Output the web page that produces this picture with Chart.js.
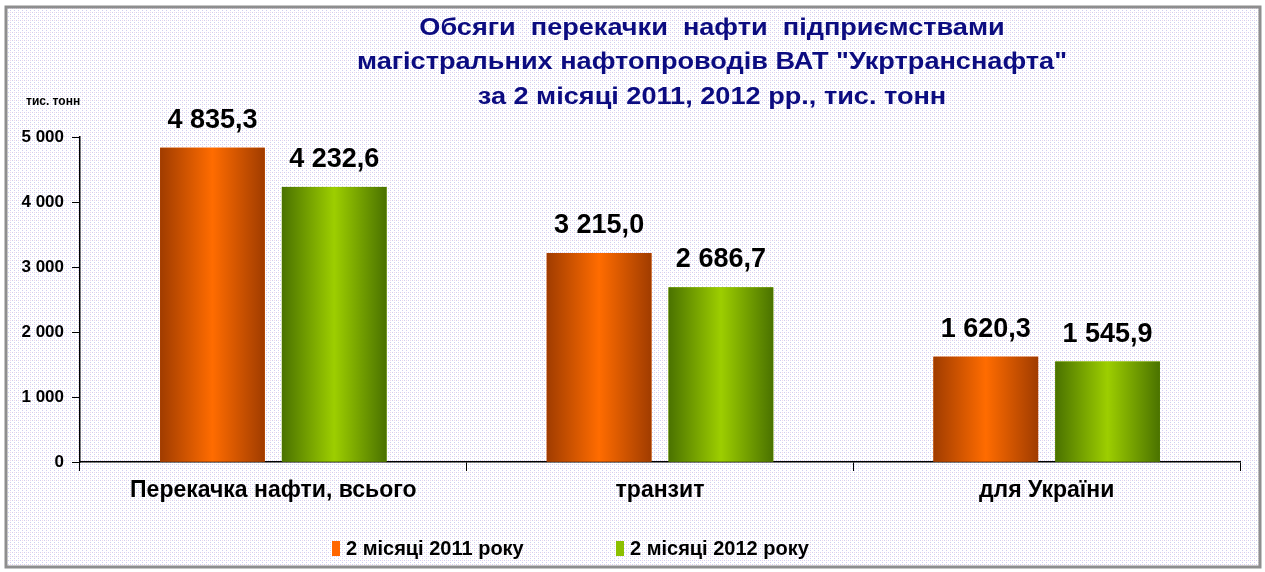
<!DOCTYPE html>
<html>
<head>
<meta charset="utf-8">
<script src="https://cdn.jsdelivr.net/npm/chart.js@4/dist/chart.umd.min.js"></script>
<style>
body{margin:0;background:#fff;}
#wrap{position:absolute;left:0;top:0;width:1265px;height:572px;}
</style>
</head>
<body>
<div id="wrap"><canvas id="chart" width="1265" height="572"></canvas></div>
<script>
// chart data
let categories = ["Перекачка нафти, всього", "транзит", "для України"];
let values2011 = [4835.3, 3215.0, 1620.3];
let values2012 = [4232.6, 2686.7, 1545.9];
let seriesNames = ["2 місяці 2011 року", "2 місяці 2012 року"];
let titleLines = [
    "Обсяги  перекачки  нафти  підприємствами",
    "магістральних нафтопроводів ВАТ \"Укртранснафта\"",
    "за 2 місяці 2011, 2012 рр., тис. тонн"
];
let unitLabel = "тис. тонн";

let FONT = '"Liberation Sans", Arial, sans-serif';
let colors = [
    {edge: "#a03c00", mid: "#ff6c00", flat: "#ff6600"},
    {edge: "#4a7200", mid: "#9dce00", flat: "#8cc000"}
];

function fmt(v, dec) {
    let s = v.toFixed(dec);
    let parts = s.split(".");
    let i = parts[0].replace(/\B(?=(\d{3})+(?!\d))/g, " ");
    return parts[1] ? i + "," + parts[1] : i;
}

// dotted background + frame
let bgPlugin = {
    id: "bg",
    beforeDraw(chart) {
        let ctx = chart.ctx;
        let tile = document.createElement("canvas");
        tile.width = 4; tile.height = 4;
        let t = tile.getContext("2d");
        t.fillStyle = "#ffffff";
        t.fillRect(0, 0, 4, 4);
        t.fillStyle = "#cfcff0";
        t.fillRect(0, 0, 1, 1);
        t.fillRect(2, 2, 1, 1);
        t.fillStyle = "#eed6ea";
        t.fillRect(2, 0, 1, 1);
        ctx.save();
        ctx.fillStyle = "#fff";
        ctx.fillRect(0, 0, chart.width, chart.height);
        ctx.fillStyle = ctx.createPattern(tile, "repeat");
        ctx.fillRect(6, 7, 1254, 560);
        ctx.strokeStyle = "#8e8e8e";
        ctx.lineWidth = 3;
        ctx.strokeRect(6, 7, 1254, 560);
        ctx.restore();
    }
};

// shaded bars + value labels
let barPlugin = {
    id: "bars",
    afterDatasetsDraw(chart) {
        let ctx = chart.ctx;
        ctx.save();
        chart.data.datasets.forEach((ds, di) => {
            let meta = chart.getDatasetMeta(di);
            meta.data.forEach((el, i) => {
                let p = el.getProps(["x", "y", "base", "width"], true);
                let g = ctx.createLinearGradient(p.x - p.width / 2, 0, p.x + p.width / 2, 0);
                g.addColorStop(0, colors[di].edge);
                g.addColorStop(0.5, colors[di].mid);
                g.addColorStop(1, colors[di].edge);
                ctx.fillStyle = g;
                ctx.fillRect(p.x - p.width / 2, p.y, p.width, p.base - p.y);
                ctx.fillStyle = "#000";
                ctx.font = "bold 27px " + FONT;
                ctx.textAlign = "center";
                ctx.textBaseline = "alphabetic";
                ctx.fillText(fmt(ds.data[i], 1), p.x, p.y - 20);
            });
        });
        ctx.restore();
    }
};

// title, unit label and legend
let textPlugin = {
    id: "texts",
    afterDraw(chart) {
        let ctx = chart.ctx;
        ctx.save();
        ctx.fillStyle = "#0c0c80";
        ctx.font = "bold 24px " + FONT;
        ctx.textAlign = "center";
        ctx.textBaseline = "middle";
        titleLines.forEach((line, i) => {
            ctx.save();
            ctx.translate(712, 28 + i * 34.5);
            ctx.scale(1.13, 1);
            ctx.fillText(line, 0, 0);
            ctx.restore();
        });
        ctx.fillStyle = "#000";
        ctx.font = "bold 12px " + FONT;
        ctx.textAlign = "left";
        ctx.fillText(unitLabel, 26, 102);

        let legendX = [332, 616];
        ctx.font = "bold 20px " + FONT;
        chart.data.datasets.forEach((ds, di) => {
            ctx.fillStyle = colors[di].flat;
            ctx.fillRect(legendX[di], 541, 8, 15);
            ctx.fillStyle = "#000";
            ctx.fillText(ds.label, legendX[di] + 14, 549);
        });
        ctx.restore();
    }
};

let ctx = document.getElementById("chart").getContext("2d");
let chart = new Chart(ctx, {
    type: "bar",
    data: {
        labels: categories,
        datasets: [
            {label: seriesNames[0], data: values2011, backgroundColor: colors[0].flat},
            {label: seriesNames[1], data: values2012, backgroundColor: colors[1].flat}
        ]
    },
    options: {
        responsive: false,
        animation: false,
        categoryPercentage: 0.63,
        barPercentage: 0.86,
        layout: {padding: {left: 10, right: 25, top: 137, bottom: 0}},
        plugins: {
            legend: {display: false},
            title: {display: false},
            tooltip: {enabled: false}
        },
        scales: {
            x: {
                grid: {offset: true, drawOnChartArea: false, drawTicks: true, tickLength: 9, color: "#000"},
                border: {color: "#000", width: 1.5},
                ticks: {color: "#000", padding: 6, font: {family: FONT, size: 23, weight: "bold"}},
                afterFit(s) { s.height = 110; }
            },
            y: {
                min: 0,
                max: 5000,
                ticks: {
                    stepSize: 1000,
                    color: "#000",
                    padding: 8,
                    font: {family: FONT, size: 17, weight: "bold"},
                    callback: v => fmt(v, 0)
                },
                grid: {drawOnChartArea: false, tickLength: 8, color: "#000"},
                border: {color: "#000", width: 1.5},
                afterFit(s) { s.width = 70; }
            }
        }
    },
    plugins: [bgPlugin, barPlugin, textPlugin]
});
</script>
</body>
</html>
